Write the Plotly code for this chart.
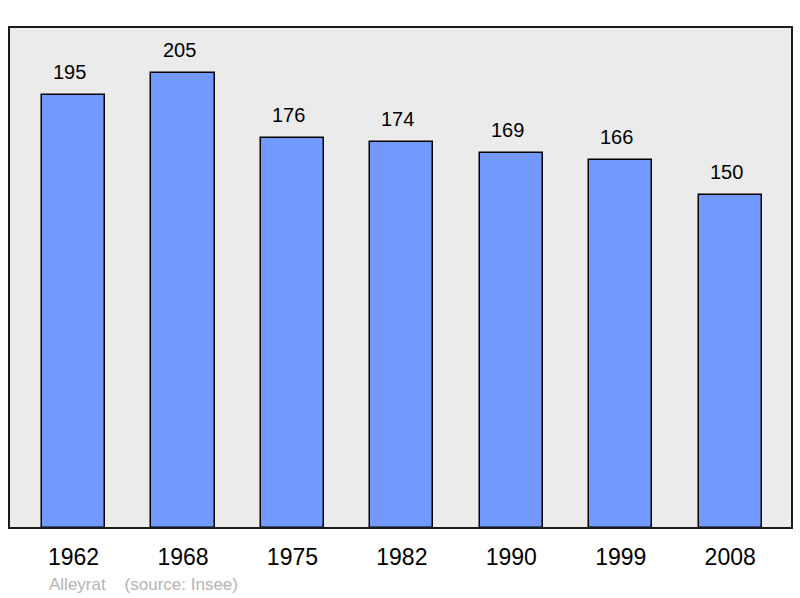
import plotly.graph_objects as go

years = ["1962", "1968", "1975", "1982", "1990", "1999", "2008"]
population = [195, 205, 176, 174, 169, 166, 150]

W, H = 800, 598
ml, mr, mt, mb = 9, 8, 27, 70
FONT = "Liberation Sans, Arial, sans-serif"

fig = go.Figure()
fig.add_trace(go.Bar(
    x=years, y=population,
    width=0.576,
    marker=dict(color="#7299ff", line=dict(color="#000000", width=1.5)),
    hoverinfo="skip",
))

for i, v in enumerate(population):
    fig.add_annotation(x=i, y=v, text=str(v), showarrow=False,
                       yshift=23, xshift=-4,
                       font=dict(size=20, color="#000000", family=FONT))

fig.add_annotation(xref="paper", yref="paper", x=(47 - ml) / (W - ml - mr),
                   y=-(584 - (H - mb)) / (H - mt - mb), xanchor="left", yanchor="middle",
                   text="Alleyrat&nbsp;&nbsp;&nbsp;&nbsp;(source: Insee)", showarrow=False,
                   font=dict(size=17, color="#b4b4b4", family=FONT))

fig.add_shape(type="rect", xref="paper", yref="paper", x0=0, y0=0, x1=1, y1=1,
              line=dict(color="#1a1a1a", width=2), layer="above")

fig.update_layout(
    width=W, height=H,
    margin=dict(l=ml, r=mr, t=mt, b=mb),
    paper_bgcolor="#ffffff",
    plot_bgcolor="#ebebeb",
    showlegend=False,
    bargap=0,
    xaxis=dict(type="category", range=[-0.59, 6.565], showgrid=False, zeroline=False,
               ticks="outside", ticklen=8, tickcolor="rgba(0,0,0,0)",
               tickfont=dict(size=23, color="#000000", family=FONT)),
    yaxis=dict(range=[0, 225.8], showgrid=False, zeroline=False, showticklabels=False,
               ticks=""),
)

fig.write_html("out.html",
               config={"displayModeBar": False},
               post_script="document.body.style.margin='0';document.body.style.overflow='hidden';")
